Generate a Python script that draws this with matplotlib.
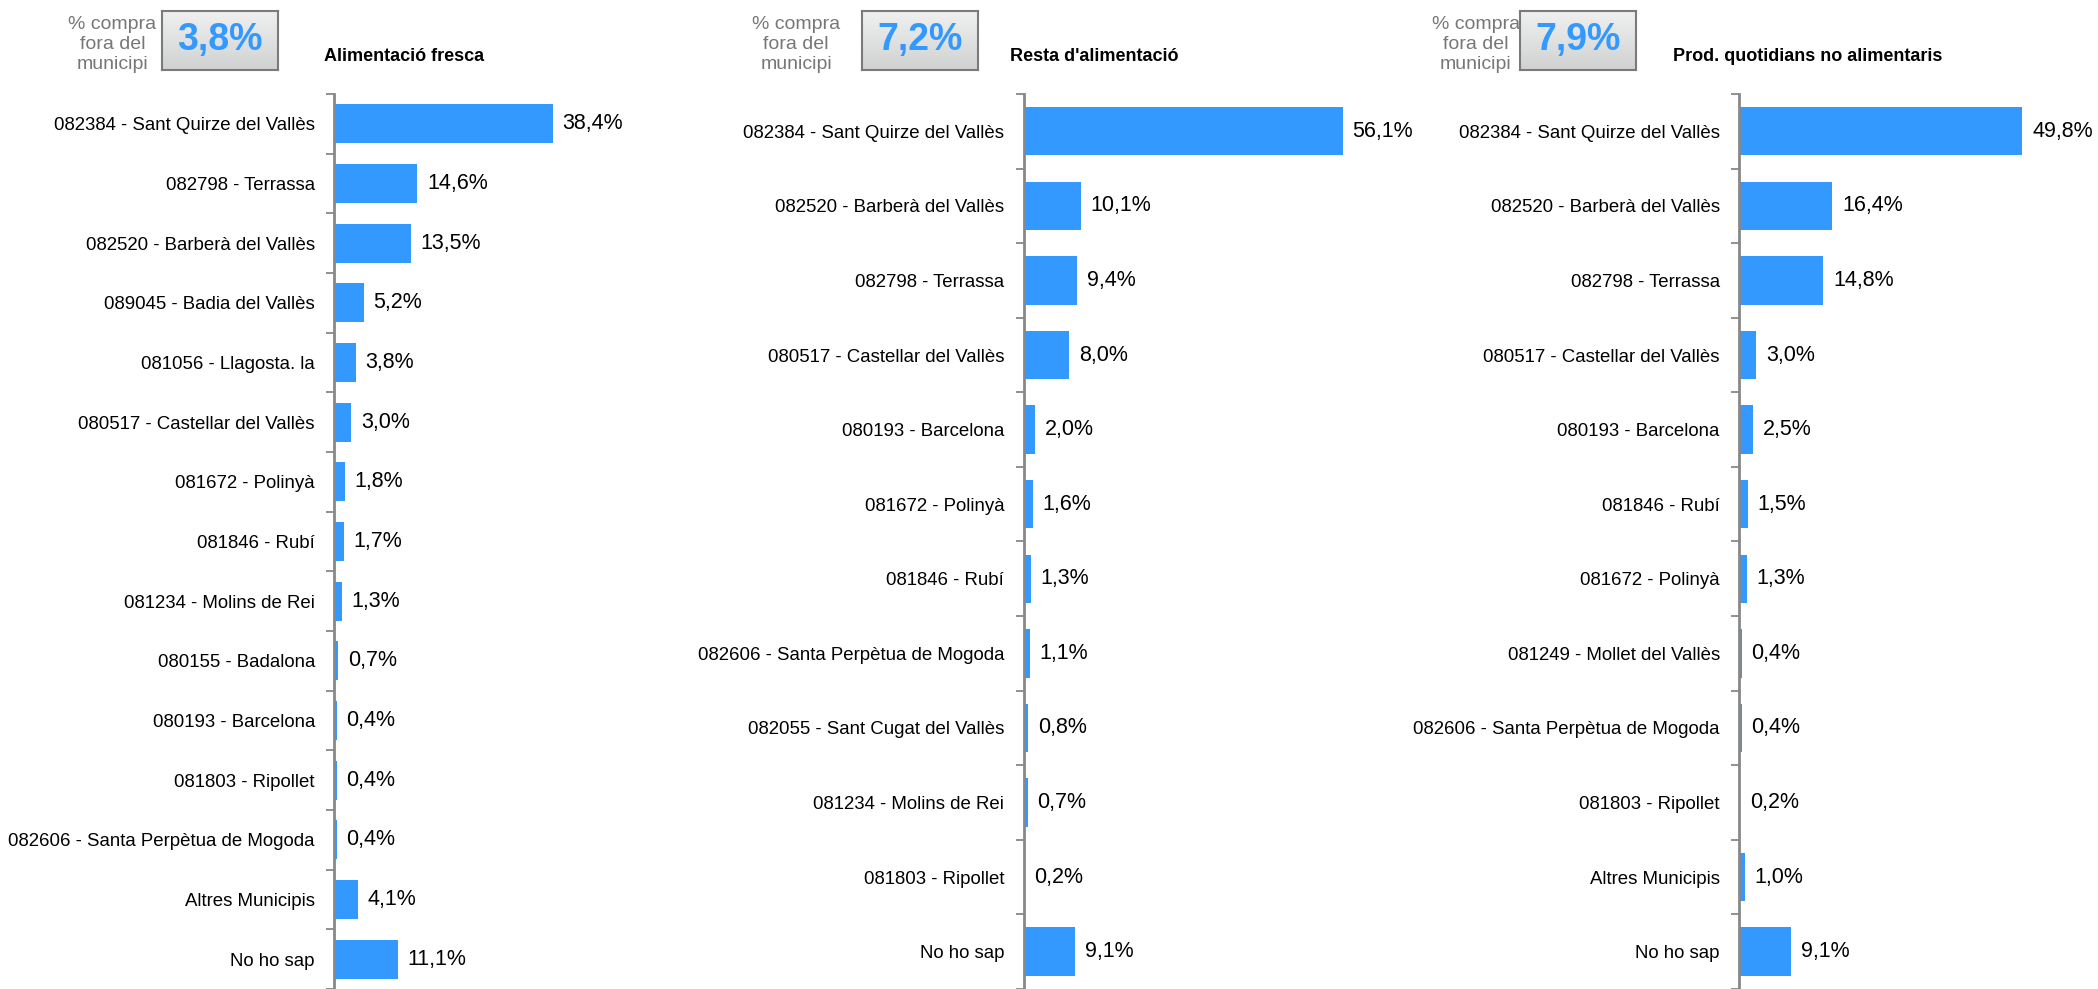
import numpy as np
import matplotlib
matplotlib.use('Agg')
import matplotlib.pyplot as plt
from matplotlib.colors import LinearSegmentedColormap
from matplotlib.ticker import FixedLocator, NullFormatter

plt.rcParams['font.family'] = ['Liberation Sans', 'DejaVu Sans']

# Panel 1 - Alimentació fresca
fresca_labels = ['082384 - Sant Quirze del Vallès', '082798 - Terrassa', '082520 - Barberà del Vallès',
                 '089045 - Badia del Vallès', '081056 - Llagosta. la', '080517 - Castellar del Vallès',
                 '081672 - Polinyà', '081846 - Rubí', '081234 - Molins de Rei', '080155 - Badalona',
                 '080193 - Barcelona', '081803 - Ripollet', '082606 - Santa Perpètua de Mogoda',
                 'Altres Municipis', 'No ho sap']
fresca_values = [38.4, 14.6, 13.5, 5.2, 3.8, 3.0, 1.8, 1.7, 1.3, 0.7, 0.4, 0.4, 0.4, 4.1, 11.1]

# Panel 2 - Resta d'alimentació
resta_labels = ['082384 - Sant Quirze del Vallès', '082520 - Barberà del Vallès', '082798 - Terrassa',
                '080517 - Castellar del Vallès', '080193 - Barcelona', '081672 - Polinyà', '081846 - Rubí',
                '082606 - Santa Perpètua de Mogoda', '082055 - Sant Cugat del Vallès',
                '081234 - Molins de Rei', '081803 - Ripollet', 'No ho sap']
resta_values = [56.1, 10.1, 9.4, 8.0, 2.0, 1.6, 1.3, 1.1, 0.8, 0.7, 0.2, 9.1]

# Panel 3 - Prod. quotidians no alimentaris
prod_labels = ['082384 - Sant Quirze del Vallès', '082520 - Barberà del Vallès', '082798 - Terrassa',
               '080517 - Castellar del Vallès', '080193 - Barcelona', '081846 - Rubí', '081672 - Polinyà',
               '081249 - Mollet del Vallès', '082606 - Santa Perpètua de Mogoda', '081803 - Ripollet',
               'Altres Municipis', 'No ho sap']
prod_values = [49.8, 16.4, 14.8, 3.0, 2.5, 1.5, 1.3, 0.4, 0.4, 0.2, 1.0, 9.1]

titles = ['Alimentació fresca', "Resta d'alimentació", 'Prod. quotidians no alimentaris']
fora_values = ['3,8%', '7,2%', '7,9%']

panels = [(fresca_labels, fresca_values), (resta_labels, resta_values), (prod_labels, prod_values)]

bar_color = '#3399FF'
ax_left = [0.1594, 0.4879, 0.829]
text_x = [0.0536, 0.3795, 0.7034]
box_x = [0.0770, 0.4107, 0.7245]
title_x = [0.1543, 0.4815, 0.7972]
box_w = 0.0555

fig = plt.figure(figsize=(20.98, 9.89), dpi=100)

box_cmap = LinearSegmentedColormap.from_list('box', ['#d0d2d2', '#f0f0f0'])
gradient = np.linspace(0, 1, 100).reshape(-1, 1)

for i, (labels, values) in enumerate(panels):
    ax = fig.add_axes([ax_left[i], 0.0, 0.1626, 0.905])
    y = np.arange(len(labels))
    ax.barh(y, values, height=0.65, color=bar_color)
    ax.set_xlim(0, 60)
    ax.set_ylim(len(labels) - 0.5, -0.5)
    ax.set_yticks(y)
    ax.set_yticklabels(labels, fontsize=13.4)
    ax.tick_params(axis='y', which='major', length=0, pad=14)
    ax.yaxis.set_minor_locator(FixedLocator(np.arange(-0.5, len(labels), 1)))
    ax.yaxis.set_minor_formatter(NullFormatter())
    ax.tick_params(axis='y', which='minor', length=6, width=1.3, color='#888888')
    ax.set_xticks([])
    for s in ['top', 'right', 'bottom']:
        ax.spines[s].set_visible(False)
    ax.spines['left'].set_color('#888888')
    ax.spines['left'].set_linewidth(2)
    for yy, v in zip(y, values):
        ax.text(v + 1.7, yy, f'{v:.1f}%'.replace('.', ','), va='center', ha='left',
                fontsize=15.5, clip_on=False)

    # header
    fig.text(text_x[i], 0.955, '% compra\nfora del\nmunicipi', ha='center', va='center',
             fontsize=14, color='#777777', linespacing=1.2)
    bax = fig.add_axes([box_x[i], 0.9296, box_w, 0.0594])
    bax.imshow(gradient, cmap=box_cmap, aspect='auto', extent=[0, 1, 0, 1], origin='lower')
    bax.set_xticks([])
    bax.set_yticks([])
    for s in bax.spines.values():
        s.set_color('#7a7a7a')
        s.set_linewidth(1.5)
    bax.text(0.5, 0.5, fora_values[i], ha='center', va='center', fontsize=27,
             fontweight='bold', color=bar_color, transform=bax.transAxes)
    fig.text(title_x[i], 0.943, titles[i], ha='left', va='center', fontsize=13, fontweight='bold')

fig.savefig('out.png', dpi=100)
